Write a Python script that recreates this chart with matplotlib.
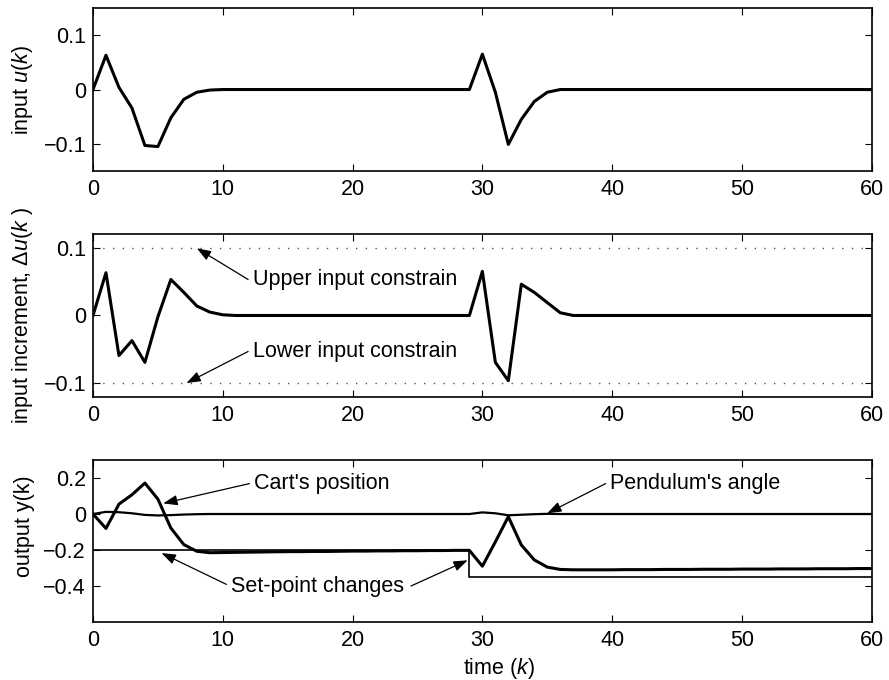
import numpy as np
import matplotlib
matplotlib.use("Agg")
import matplotlib.pyplot as plt

plt.rcParams.update({
    "font.family": "Liberation Sans", "font.size": 15.5,
    "mathtext.fontset": "custom", "mathtext.it": "Liberation Sans:italic",
    "mathtext.rm": "Liberation Sans",
    "axes.linewidth": 1.2,
    "xtick.direction": "in", "ytick.direction": "in",
    "xtick.top": True, "ytick.right": True,
    "xtick.major.size": 5, "ytick.major.size": 5,
    "xtick.major.width": 0.8, "ytick.major.width": 0.8,
    "xtick.major.pad": 6, "ytick.major.pad": 5,
})

k = np.arange(61)

# input u(k)
u = [0, 0.063, 0.004, -0.034, -0.103, -0.105, -0.052, -0.018, -0.005, -0.001,
     0, 0, 0, 0, 0, 0, 0, 0, 0, 0,
     0, 0, 0, 0, 0, 0, 0, 0, 0, 0,
     0.065, -0.005, -0.101, -0.055, -0.022, -0.005, 0, 0, 0, 0,
     0, 0, 0, 0, 0, 0, 0, 0, 0, 0,
     0, 0, 0, 0, 0, 0, 0, 0, 0, 0, 0]

# input increment du(k)
du = [0, 0.063, -0.059, -0.037, -0.069, -0.002, 0.053, 0.034, 0.014, 0.005,
      0.001, 0, 0, 0, 0, 0, 0, 0, 0, 0,
      0, 0, 0, 0, 0, 0, 0, 0, 0, 0,
      0.065, -0.069, -0.096, 0.046, 0.034, 0.019, 0.004, 0, 0, 0,
      0, 0, 0, 0, 0, 0, 0, 0, 0, 0,
      0, 0, 0, 0, 0, 0, 0, 0, 0, 0, 0]
du_max, du_min = 0.1, -0.1

# outputs
cart = [0, -0.08, 0.055, 0.107, 0.172, 0.083, -0.078, -0.170, -0.207, -0.215,
        -0.214, -0.213, -0.212, -0.211, -0.210, -0.209, -0.209, -0.208, -0.208, -0.207,
        -0.206, -0.206, -0.205, -0.205, -0.204, -0.204, -0.203, -0.203, -0.202, -0.202,
        -0.29, -0.155, -0.015, -0.172, -0.255, -0.295, -0.308, -0.310, -0.310, -0.310,
        -0.310, -0.309, -0.309, -0.309, -0.308, -0.308, -0.308, -0.307, -0.307, -0.307,
        -0.306, -0.306, -0.306, -0.305, -0.305, -0.305, -0.304, -0.304, -0.304, -0.303, -0.303]
pend = [0, 0.012, 0.010, 0.004, -0.005, -0.008, -0.006, -0.003, -0.001, 0,
        0, 0, 0, 0, 0, 0, 0, 0, 0, 0,
        0, 0, 0, 0, 0, 0, 0, 0, 0, 0,
        0.009, 0.004, -0.007, -0.004, -0.001, 0.001, 0, 0, 0, 0,
        0, 0, 0, 0, 0, 0, 0, 0, 0, 0,
        0, 0, 0, 0, 0, 0, 0, 0, 0, 0, 0]
setpoint = [-0.2] * 29 + [-0.35] * 32

fig = plt.figure(figsize=(8.89, 6.8), dpi=100)
L, W = 0.1046, 0.876
ax1 = fig.add_axes([L, 0.7485, W, 0.2397])
ax2 = fig.add_axes([L, 0.4162, W, 0.2397])
ax3 = fig.add_axes([L, 0.0853, W, 0.2382])

arrow = dict(arrowstyle="-|>,head_length=0.55,head_width=0.2", color="black",
             lw=0.9, shrinkA=0, shrinkB=0)

ax1.plot(k, u, color="black", lw=2.2)
ax1.set_ylim(-0.15, 0.15)
ax1.set_yticks([-0.1, 0, 0.1])
ax1.set_yticklabels(["\u22120.1", "0", "0.1"])
ax1.set_ylabel("input $\\mathit{u}$($\\mathit{k}$)")

ax2.plot(k, du, color="black", lw=2.2)
ax2.plot(k, [du_max] * len(k), color="#555555", lw=1.0, ls=(0, (1, 6)))
ax2.plot(k, [du_min] * len(k), color="#555555", lw=1.0, ls=(0, (1, 6)))
ax2.set_ylim(-0.12, 0.12)
ax2.set_yticks([-0.1, 0, 0.1])
ax2.set_yticklabels(["\u22120.1", "0", "0.1"])
ax2.set_ylabel("input increment, $\\Delta\\mathit{u}$($\\mathit{k}$ )")
ax2.annotate("", xy=(8.0, 0.099), xytext=(11.95, 0.053), arrowprops=arrow)
ax2.text(12.3, 0.053, "Upper input constrain", va="center", ha="left")
ax2.annotate("", xy=(7.2, -0.0995), xytext=(11.95, -0.053), arrowprops=arrow)
ax2.text(12.3, -0.053, "Lower input constrain", va="center", ha="left")

ax3.plot(k, pend, color="black", lw=1.6)
ax3.plot(k, cart, color="black", lw=2.2)
ax3.step(k, setpoint, where="post", color="black", lw=1.2)
ax3.set_ylim(-0.6, 0.3)
ax3.set_yticks([-0.4, -0.2, 0, 0.2])
ax3.set_yticklabels(["\u22120.4", "\u22120.2", "0", "0.2"])
ax3.set_ylabel("output y(k)")
ax3.yaxis.set_label_coords(-0.075, 0.59)
ax3.set_xlabel("time ($\\mathit{k}$)", labelpad=2)
ax3.xaxis.set_label_coords(0.521, -0.21)
ax3.annotate("", xy=(5.41, 0.059), xytext=(12.05, 0.169), arrowprops=arrow)
ax3.text(12.4, 0.169, "Cart's position", va="center", ha="left")
ax3.annotate("", xy=(35.0, 0.004), xytext=(39.5, 0.169), arrowprops=arrow)
ax3.text(39.85, 0.169, "Pendulum's angle", va="center", ha="left")
ax3.text(10.6, -0.40, "Set-point changes", va="center", ha="left")
ax3.annotate("", xy=(5.28, -0.217), xytext=(10.28, -0.391), arrowprops=arrow)
ax3.annotate("", xy=(28.87, -0.257), xytext=(24.5, -0.40), arrowprops=arrow)

for ax in (ax1, ax2, ax3):
    ax.set_xlim(0, 60)
    ax.set_xticks([0, 10, 20, 30, 40, 50, 60])
    if ax is not ax3:
        ax.yaxis.set_label_coords(-0.075, 0.5)

fig.savefig("out.png", dpi=100)
